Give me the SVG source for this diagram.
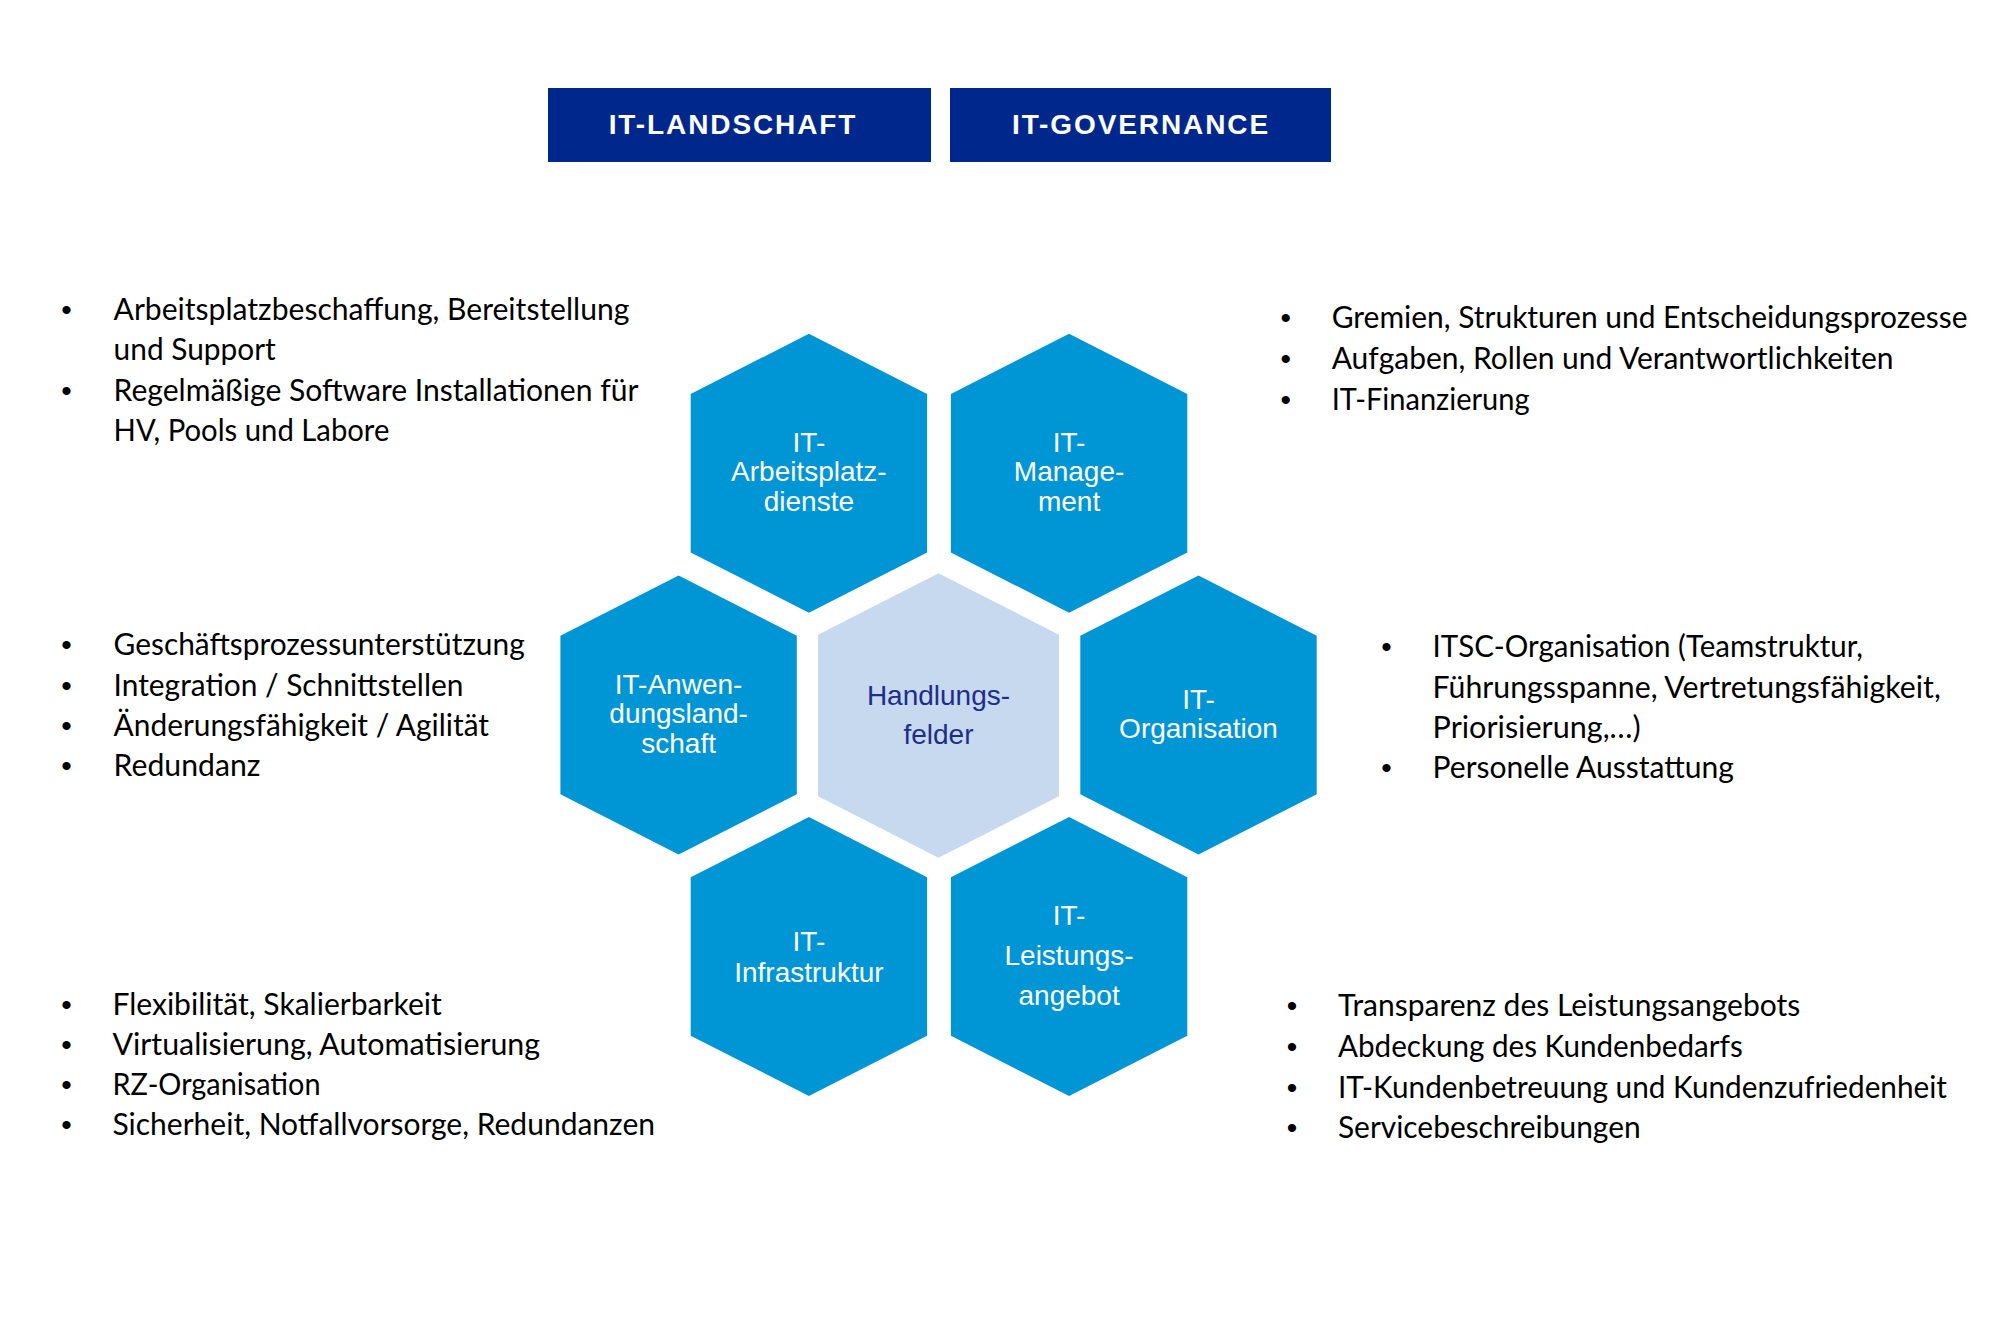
<svg xmlns="http://www.w3.org/2000/svg" xmlns:xlink="http://www.w3.org/1999/xlink" width="2002" height="1334" viewBox="0 0 2002 1334">
<style>
.hdr{fill:#00288C}
.hdrt{font-family:"Liberation Sans",Arial,sans-serif;font-weight:bold;font-size:28px;fill:#fff;letter-spacing:1.9px;text-anchor:middle}
.hex{fill:#0096D6}
.hexc{fill:#C6D9EE}
.ht{font-family:"Liberation Sans",Arial,sans-serif;font-size:28px;fill:#fff;text-anchor:middle}
.hc{font-family:"Liberation Sans",Arial,sans-serif;font-size:28px;fill:#1E2D8C;text-anchor:middle}
.bt{font-family:Lato,"Open Sans","Liberation Sans",sans-serif;font-size:30px;fill:#000}
.bu{font-family:"Liberation Sans",Arial,sans-serif;font-size:30px;fill:#000;text-anchor:middle}
</style>
<defs>
<polygon id="hx" points="0,-139.5 118.2,-79.2 118.2,79.2 0,139.5 -118.2,79.2 -118.2,-79.2"/>
<polygon id="hxc" points="0,-142.2 120.4,-80.8 120.4,80.8 0,142.2 -120.4,80.8 -120.4,-80.8"/>
</defs>
<rect width="2002" height="1334" fill="#fff"/>

<g id="header-landschaft">
<rect class="hdr" x="548" y="88" width="383" height="74"/>
<text class="hdrt" x="733" y="134">IT-LANDSCHAFT</text>
</g>
<g id="header-governance">
<rect class="hdr" x="950" y="88" width="381" height="74"/>
<text class="hdrt" x="1141" y="134">IT-GOVERNANCE</text>
</g>

<g id="hex-arbeitsplatz">
<use xlink:href="#hx" class="hex" x="808.9" y="473.2"/>
<text class="ht" x="808.9" y="451.7">IT-</text>
<text class="ht" x="808.9" y="481.2">Arbeitsplatz-</text>
<text class="ht" x="808.9" y="510.7">dienste</text>
</g>
<g id="hex-management">
<use xlink:href="#hx" class="hex" x="1069.1" y="473.2"/>
<text class="ht" x="1069.1" y="451.7">IT-</text>
<text class="ht" x="1069.1" y="481.2">Manage-</text>
<text class="ht" x="1069.1" y="510.7">ment</text>
</g>
<g id="hex-anwendung">
<use xlink:href="#hx" class="hex" x="678.6" y="715"/>
<text class="ht" x="678.6" y="693.5">IT-Anwen-</text>
<text class="ht" x="678.6" y="723">dungsland-</text>
<text class="ht" x="678.6" y="752.5">schaft</text>
</g>
<g id="hex-handlungsfelder">
<use xlink:href="#hxc" class="hexc" x="938.5" y="715.5"/>
<text class="hc" x="938.5" y="704.5">Handlungs-</text>
<text class="hc" x="938.5" y="744">felder</text>
</g>
<g id="hex-organisation">
<use xlink:href="#hx" class="hex" x="1198.5" y="715"/>
<text class="ht" x="1198.5" y="709">IT-</text>
<text class="ht" x="1198.5" y="738">Organisation</text>
</g>
<g id="hex-infrastruktur">
<use xlink:href="#hx" class="hex" x="808.9" y="956.5"/>
<text class="ht" x="808.9" y="950.5">IT-</text>
<text class="ht" x="808.9" y="982">Infrastruktur</text>
</g>
<g id="hex-leistungsangebot">
<use xlink:href="#hx" class="hex" x="1069.1" y="956.5"/>
<text class="ht" x="1069.1" y="925">IT-</text>
<text class="ht" x="1069.1" y="965">Leistungs-</text>
<text class="ht" x="1069.1" y="1005">angebot</text>
</g>

<g id="list-arbeitsplatz">
<text class="bu" x="66.4" y="320">•</text>
<text class="bt" x="113.6" y="320" textLength="515.8" lengthAdjust="spacingAndGlyphs">Arbeitsplatzbeschaffung, Bereitstellung</text>
<text class="bt" x="113.6" y="360.3" textLength="162.2" lengthAdjust="spacingAndGlyphs">und Support</text>
<text class="bu" x="66.4" y="400.6">•</text>
<text class="bt" x="113.6" y="400.6" textLength="524.8" lengthAdjust="spacingAndGlyphs">Regelmäßige Software Installationen für</text>
<text class="bt" x="113.6" y="441" textLength="275.8" lengthAdjust="spacingAndGlyphs">HV, Pools und Labore</text>
</g>
<g id="list-management">
<text class="bu" x="1285.7" y="328">•</text>
<text class="bt" x="1331.7" y="328" textLength="635.8" lengthAdjust="spacingAndGlyphs">Gremien, Strukturen und Entscheidungsprozesse</text>
<text class="bu" x="1285.7" y="369">•</text>
<text class="bt" x="1331.7" y="369" textLength="561.8" lengthAdjust="spacingAndGlyphs">Aufgaben, Rollen und Verantwortlichkeiten</text>
<text class="bu" x="1285.7" y="410">•</text>
<text class="bt" x="1331.7" y="410" textLength="197.9" lengthAdjust="spacingAndGlyphs">IT-Finanzierung</text>
</g>
<g id="list-anwendung">
<text class="bu" x="66.4" y="655">•</text>
<text class="bt" x="113.6" y="655" textLength="411.1" lengthAdjust="spacingAndGlyphs">Geschäftsprozessunterstützung</text>
<text class="bu" x="66.4" y="696">•</text>
<text class="bt" x="113.6" y="696" textLength="349.8" lengthAdjust="spacingAndGlyphs">Integration / Schnittstellen</text>
<text class="bu" x="66.4" y="735.5">•</text>
<text class="bt" x="113.6" y="735.5" textLength="375.4" lengthAdjust="spacingAndGlyphs">Änderungsfähigkeit / Agilität</text>
<text class="bu" x="66.4" y="776">•</text>
<text class="bt" x="113.6" y="776" textLength="146.8" lengthAdjust="spacingAndGlyphs">Redundanz</text>
</g>
<g id="list-organisation">
<text class="bu" x="1386.6" y="657">•</text>
<text class="bt" x="1432.6" y="657" textLength="430.3" lengthAdjust="spacingAndGlyphs">ITSC-Organisation (Teamstruktur,</text>
<text class="bt" x="1432.6" y="697.5" textLength="508.2" lengthAdjust="spacingAndGlyphs">Führungsspanne, Vertretungsfähigkeit,</text>
<text class="bt" x="1432.6" y="738" textLength="208.1" lengthAdjust="spacingAndGlyphs">Priorisierung,…)</text>
<text class="bu" x="1386.6" y="777.5">•</text>
<text class="bt" x="1432.6" y="777.5" textLength="301.3" lengthAdjust="spacingAndGlyphs">Personelle Ausstattung</text>
</g>
<g id="list-infrastruktur">
<text class="bu" x="66.4" y="1015">•</text>
<text class="bt" x="112.4" y="1015" textLength="329.4" lengthAdjust="spacingAndGlyphs">Flexibilität, Skalierbarkeit</text>
<text class="bu" x="66.4" y="1055">•</text>
<text class="bt" x="112.4" y="1055" textLength="427.7" lengthAdjust="spacingAndGlyphs">Virtualisierung, Automatisierung</text>
<text class="bu" x="66.4" y="1095">•</text>
<text class="bt" x="112.4" y="1095" textLength="208.1" lengthAdjust="spacingAndGlyphs">RZ-Organisation</text>
<text class="bu" x="66.4" y="1135">•</text>
<text class="bt" x="112.4" y="1135" textLength="542.6" lengthAdjust="spacingAndGlyphs">Sicherheit, Notfallvorsorge, Redundanzen</text>
</g>
<g id="list-leistungsangebot">
<text class="bu" x="1292.1" y="1016">•</text>
<text class="bt" x="1338" y="1016" textLength="462.2" lengthAdjust="spacingAndGlyphs">Transparenz des Leistungsangebots</text>
<text class="bu" x="1292.1" y="1057">•</text>
<text class="bt" x="1338" y="1057" textLength="404.7" lengthAdjust="spacingAndGlyphs">Abdeckung des Kundenbedarfs</text>
<text class="bu" x="1292.1" y="1097.5">•</text>
<text class="bt" x="1338" y="1097.5" textLength="609" lengthAdjust="spacingAndGlyphs">IT-Kundenbetreuung und Kundenzufriedenheit</text>
<text class="bu" x="1292.1" y="1137.5">•</text>
<text class="bt" x="1338" y="1137.5" textLength="302.6" lengthAdjust="spacingAndGlyphs">Servicebeschreibungen</text>
</g>
<g id="connectors"/>
</svg>
